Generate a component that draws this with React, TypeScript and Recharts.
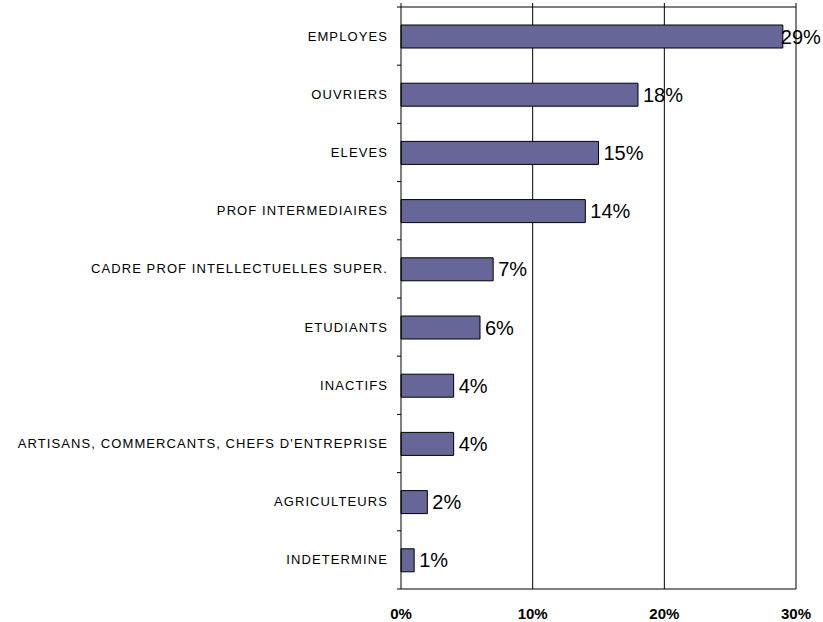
import { Bar, BarChart, CartesianGrid, LabelList, XAxis, YAxis } from 'recharts';

const categories = [
  'EMPLOYES',
  'OUVRIERS',
  'ELEVES',
  'PROF INTERMEDIAIRES',
  'CADRE PROF INTELLECTUELLES SUPER.',
  'ETUDIANTS',
  'INACTIFS',
  "ARTISANS, COMMERCANTS, CHEFS D'ENTREPRISE",
  'AGRICULTEURS',
  'INDETERMINE',
];
const shares = [29, 18, 15, 14, 7, 6, 4, 4, 2, 1];
const xTicks = [0, 10, 20, 30];
const xMax = 30;

const data = categories.map((name, i) => ({ name, value: shares[i] }));

const W = 823;
const H = 622;
const margin = { top: 3, right: 27, bottom: 3, left: 0 };
const yAxisWidth = 401;
const xAxisHeight = 30;
const padTop = 4;
const bandH = (H - margin.top - margin.bottom - xAxisHeight - padTop) / categories.length;
const font = 'Arial, "Liberation Sans", sans-serif';
const labelSize = 20;

// label at band centre, tick mark at the band boundary (Excel style)
// x arrives already shifted 8px left of the axis line (tickSize 6 + margin 2)
function CategoryTick(props: any) {
  const { x, y, payload, index } = props;
  const ax = x + 8;
  const last = index === categories.length - 1;
  return (
    <g>
      <line x1={ax - 4} x2={ax} y1={y - bandH / 2} y2={y - bandH / 2} stroke="#000" />
      {last && <line x1={ax - 4} x2={ax} y1={y + bandH / 2} y2={y + bandH / 2} stroke="#000" />}
      <text
        x={ax - 13}
        y={y}
        dy="0.35em"
        textAnchor="end"
        fontSize={13}
        letterSpacing={1.1}
        fontFamily={font}
        fill="#000"
      >
        {payload.value}
      </text>
    </g>
  );
}

// value label to the right of the bar, pulled back inside the picture when it would overflow
function ValueLabel(props: any) {
  const { x, y, width, height, value } = props;
  const txt = `${value}%`;
  const approxW = txt.length * 0.67 * labelSize;
  let lx = x + width + 5;
  if (lx + approxW > W - 2) lx = W - 2 - approxW;
  return (
    <text x={lx} y={y + height / 2} dy="0.35em" fontSize={labelSize} fontFamily={font} fill="#000">
      {txt}
    </text>
  );
}

export default function App() {
  return (
    <div style={{ position: 'absolute', left: 0, top: 0, background: '#fff' }}>
      <BarChart width={W} height={H} data={data} layout="vertical" margin={margin}>
        <CartesianGrid
          stroke="#000"
          horizontalCoordinatesGenerator={({ offset }: any) => [offset.top + padTop]}
          verticalCoordinatesGenerator={({ offset }: any) =>
            xTicks.slice(1).map((t) => offset.left + (offset.width * t) / xMax)
          }
        />
        <XAxis
          type="number"
          domain={[0, xMax]}
          ticks={xTicks}
          tickFormatter={(v) => `${v}%`}
          height={xAxisHeight}
          stroke="#000"
          tickSize={0}
          tickMargin={19}
          tick={{ fontSize: 15, fontWeight: 'bold', fill: '#000', fontFamily: font }}
        />
        <YAxis
          type="category"
          dataKey="name"
          width={yAxisWidth}
          padding={{ top: padTop, bottom: 0 }}
          stroke="#000"
          tickLine={false}
          interval={0}
          tick={<CategoryTick />}
        />
        <Bar dataKey="value" fill="#666699" stroke="#000" strokeWidth={1} barSize={23} isAnimationActive={false}>
          <LabelList dataKey="value" content={<ValueLabel />} />
        </Bar>
      </BarChart>
    </div>
  );
}
